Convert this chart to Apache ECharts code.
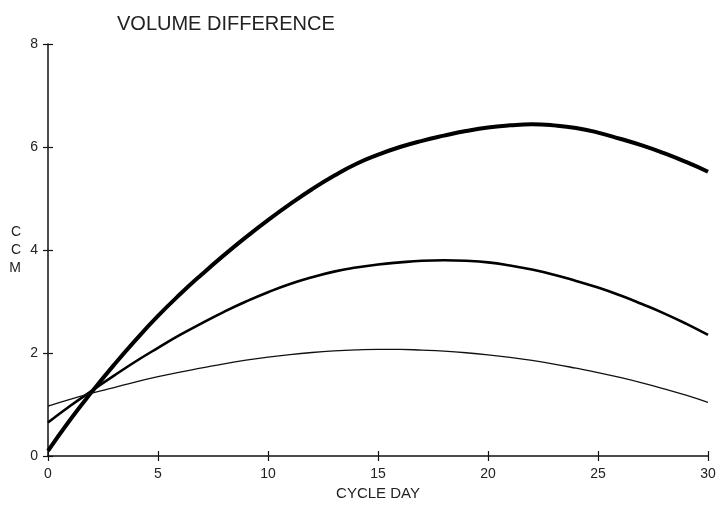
<!DOCTYPE html>
<html><head><meta charset="utf-8">
<script src="https://cdn.jsdelivr.net/npm/echarts@6/dist/echarts.min.js"></script>
<style>html,body{margin:0;padding:0;background:#fff}#c{width:720px;height:506px}</style>
</head><body><div id="c"></div>
<script>
const days = [0,1,2,3,4,5,6,7,8,9,10,11,12,13,14,15,16,17,18,19,20,21,22,23,24,25,26,27,28,29,30];
const thickVals = [0.10,0.70,1.25,1.77,2.26,2.72,3.14,3.53,3.90,4.25,4.58,4.89,5.18,5.44,5.67,5.85,6.00,6.12,6.22,6.31,6.38,6.42,6.44,6.42,6.37,6.28,6.16,6.03,5.88,5.71,5.52];
const middleVals = [0.65,0.97,1.27,1.56,1.84,2.10,2.35,2.58,2.80,3.00,3.18,3.34,3.47,3.58,3.66,3.72,3.76,3.79,3.80,3.79,3.76,3.70,3.62,3.52,3.40,3.27,3.12,2.95,2.77,2.57,2.35];
const thinVals = [0.97,1.10,1.22,1.33,1.44,1.54,1.63,1.71,1.79,1.86,1.92,1.97,2.01,2.04,2.06,2.07,2.07,2.055,2.035,2.005,1.965,1.915,1.855,1.785,1.705,1.62,1.525,1.42,1.305,1.18,1.04];
const xTicks = [0,5,10,15,20,25,30];
const yTicks = [0,2,4,6,8];
const titleText = 'VOLUME DIFFERENCE';
const xName = 'CYCLE DAY';
const yName = 'C\nC\nM';

const pair = v => days.map((d,i)=>[d,v[i]]);
const font = 'Liberation Sans';
const chart = echarts.init(document.getElementById('c'));
const axisLine = {show:true, lineStyle:{color:'#111', width:1.5}};
chart.setOption({
  animation:false,
  title:{text:titleText, left:112, top:9, textStyle:{fontFamily:font, fontSize:20, fontWeight:'normal', color:'#222'}},
  grid:{left:48, right:12, top:44, bottom:49},
  xAxis:[
    {type:'value', min:0, max:30, interval:5, axisLine, splitLine:{show:false},
     axisTick:{show:true, length:5, lineStyle:{color:'#111', width:1.2}},
     axisLabel:{fontFamily:font, fontSize:14, color:'#222', margin:11},
     name:xName, nameLocation:'middle', nameGap:30, nameTextStyle:{fontFamily:font, fontSize:15, color:'#222'}},
    {type:'value', min:0, max:30, interval:5, position:'bottom', axisLine:{show:false}, splitLine:{show:false},
     axisTick:{show:true, inside:true, length:5, lineStyle:{color:'#111', width:1.2}}, axisLabel:{show:false}}
  ],
  yAxis:[
    {type:'value', min:0, max:8, interval:2, axisLine, splitLine:{show:false},
     axisTick:{show:true, length:5, lineStyle:{color:'#111', width:1.2}},
     axisLabel:{fontFamily:font, fontSize:14, color:'#222', margin:10},
     name:yName, nameLocation:'middle', nameGap:27, nameRotate:0, nameTextStyle:{fontFamily:font, fontSize:14, color:'#222', lineHeight:18}},
    {type:'value', min:0, max:8, interval:2, position:'left', axisLine:{show:false}, splitLine:{show:false},
     axisTick:{show:true, inside:true, length:5, lineStyle:{color:'#111', width:1.2}}, axisLabel:{show:false}}
  ],
  series:[
    {type:'line', data:pair(thickVals), smooth:true, symbol:'none', lineStyle:{color:'#000', width:4}},
    {type:'line', data:pair(middleVals), smooth:true, symbol:'none', lineStyle:{color:'#000', width:2.6}},
    {type:'line', data:pair(thinVals), smooth:true, symbol:'none', lineStyle:{color:'#111', width:1.3}}
  ]
});
</script></body></html>
